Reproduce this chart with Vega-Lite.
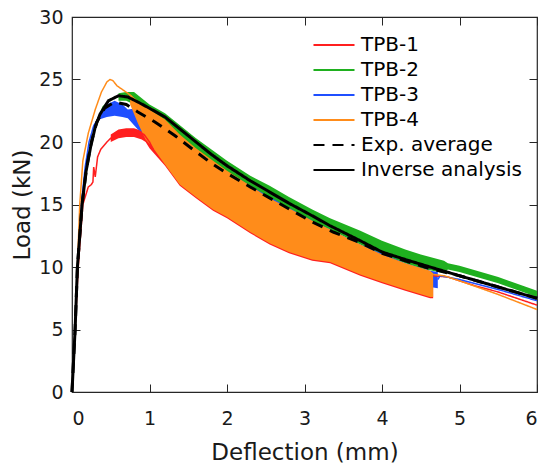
{
  "$schema": "https://vega.github.io/schema/vega-lite/v6.json",
  "width": 465,
  "height": 375,
  "autosize": {"type": "none"},
  "padding": {"left": 72, "top": 17, "right": 13, "bottom": 74},
  "background": "white",
  "config": {
    "font": "DejaVu Sans",
    "view": {"stroke": "#262626", "strokeWidth": 1.2},
    "axis": {
      "grid": false,
      "labelColor": "#1a1a1a",
      "labelFont": "DejaVu Sans",
      "labelFontSize": 19,
      "titleFont": "DejaVu Sans",
      "titleFontSize": 23,
      "titleFontWeight": "normal",
      "titleColor": "#1a1a1a"
    }
  },
  "datasets": {
    "bands": [
      {"s": "TPB-1", "x": 0.5, "y": 20.6, "lo": 20.0},
      {"s": "TPB-1", "x": 0.6, "y": 21.0, "lo": 20.3},
      {"s": "TPB-1", "x": 0.7, "y": 21.1, "lo": 20.4},
      {"s": "TPB-1", "x": 0.8, "y": 21.1, "lo": 20.4},
      {"s": "TPB-1", "x": 0.9, "y": 20.9, "lo": 20.2},
      {"s": "TPB-1", "x": 0.95, "y": 20.7, "lo": 20.0},
      {"s": "TPB-1", "x": 1.0, "y": 20.6, "lo": 19.5},
      {"s": "TPB-1", "x": 1.2, "y": 20.0, "lo": 18.1},
      {"s": "TPB-1", "x": 1.39, "y": 18.8, "lo": 16.5},
      {"s": "TPB-1", "x": 1.6, "y": 17.6, "lo": 15.5},
      {"s": "TPB-1", "x": 1.82, "y": 16.6, "lo": 14.5},
      {"s": "TPB-1", "x": 2.0, "y": 16.0, "lo": 13.9},
      {"s": "TPB-1", "x": 2.3, "y": 14.8, "lo": 12.7},
      {"s": "TPB-1", "x": 2.55, "y": 13.9, "lo": 11.8},
      {"s": "TPB-1", "x": 2.8, "y": 13.2, "lo": 11.1},
      {"s": "TPB-1", "x": 3.1, "y": 12.6, "lo": 10.5},
      {"s": "TPB-1", "x": 3.33, "y": 12.2, "lo": 10.3},
      {"s": "TPB-1", "x": 3.72, "y": 11.2, "lo": 9.3},
      {"s": "TPB-1", "x": 4.0, "y": 10.6, "lo": 8.7},
      {"s": "TPB-1", "x": 4.3, "y": 10.0, "lo": 8.1},
      {"s": "TPB-1", "x": 4.62, "y": 9.4, "lo": 7.5},
      {"s": "TPB-1", "x": 4.66, "y": 9.3, "lo": 7.5},

      {"s": "TPB-2", "x": 0.6, "y": 23.9, "lo": 23.3},
      {"s": "TPB-2", "x": 0.7, "y": 24.0, "lo": 23.3},
      {"s": "TPB-2", "x": 0.8, "y": 24.0, "lo": 23.0},
      {"s": "TPB-2", "x": 0.9, "y": 23.5, "lo": 22.5},
      {"s": "TPB-2", "x": 1.0, "y": 23.0, "lo": 22.0},
      {"s": "TPB-2", "x": 1.2, "y": 22.3, "lo": 21.3},
      {"s": "TPB-2", "x": 1.4, "y": 21.3, "lo": 20.3},
      {"s": "TPB-2", "x": 1.6, "y": 20.3, "lo": 19.3},
      {"s": "TPB-2", "x": 1.8, "y": 19.4, "lo": 18.4},
      {"s": "TPB-2", "x": 2.0, "y": 18.5, "lo": 17.5},
      {"s": "TPB-2", "x": 2.3, "y": 17.3, "lo": 16.4},
      {"s": "TPB-2", "x": 2.55, "y": 16.5, "lo": 15.5},
      {"s": "TPB-2", "x": 2.8, "y": 15.6, "lo": 14.6},
      {"s": "TPB-2", "x": 3.1, "y": 14.6, "lo": 13.6},
      {"s": "TPB-2", "x": 3.33, "y": 13.9, "lo": 13.0},
      {"s": "TPB-2", "x": 3.72, "y": 12.9, "lo": 11.8},
      {"s": "TPB-2", "x": 4.0, "y": 12.1, "lo": 11.0},
      {"s": "TPB-2", "x": 4.3, "y": 11.4, "lo": 10.3},
      {"s": "TPB-2", "x": 4.5, "y": 11.0, "lo": 9.9},
      {"s": "TPB-2", "x": 4.8, "y": 10.5, "lo": 9.5},
      {"s": "TPB-2", "x": 4.85, "y": 10.3, "lo": 9.8},
      {"s": "TPB-2", "x": 5.0, "y": 10.1, "lo": 9.6},
      {"s": "TPB-2", "x": 5.5, "y": 9.2, "lo": 8.7},
      {"s": "TPB-2", "x": 6.0, "y": 8.1, "lo": 7.6},

      {"s": "TPB-3", "x": 0.35, "y": 22.3, "lo": 21.8},
      {"s": "TPB-3", "x": 0.45, "y": 23.0, "lo": 22.0},
      {"s": "TPB-3", "x": 0.55, "y": 23.3, "lo": 22.1},
      {"s": "TPB-3", "x": 0.65, "y": 23.0, "lo": 22.0},
      {"s": "TPB-3", "x": 0.72, "y": 22.6, "lo": 21.9},
      {"s": "TPB-3", "x": 0.85, "y": 22.7, "lo": 21.0},
      {"s": "TPB-3", "x": 1.0, "y": 22.2, "lo": 20.5},
      {"s": "TPB-3", "x": 1.3, "y": 21.0, "lo": 18.5},
      {"s": "TPB-3", "x": 1.6, "y": 19.4, "lo": 16.8},
      {"s": "TPB-3", "x": 1.95, "y": 17.8, "lo": 15.2},
      {"s": "TPB-3", "x": 2.3, "y": 16.5, "lo": 13.8},
      {"s": "TPB-3", "x": 2.55, "y": 15.6, "lo": 13.0},
      {"s": "TPB-3", "x": 3.1, "y": 13.7, "lo": 11.6},
      {"s": "TPB-3", "x": 3.72, "y": 11.8, "lo": 10.4},
      {"s": "TPB-3", "x": 4.3, "y": 10.3, "lo": 9.0},
      {"s": "TPB-3", "x": 4.62, "y": 9.7, "lo": 8.4},
      {"s": "TPB-3", "x": 4.72, "y": 9.6, "lo": 8.3},

      {"s": "TPB-4", "x": 0.75, "y": 23.8, "lo": 23.0},
      {"s": "TPB-4", "x": 0.85, "y": 23.3, "lo": 21.5},
      {"s": "TPB-4", "x": 0.95, "y": 22.8, "lo": 20.2},
      {"s": "TPB-4", "x": 1.05, "y": 22.4, "lo": 19.5},
      {"s": "TPB-4", "x": 1.2, "y": 21.8, "lo": 18.2},
      {"s": "TPB-4", "x": 1.39, "y": 20.6, "lo": 16.6},
      {"s": "TPB-4", "x": 1.6, "y": 19.5, "lo": 15.6},
      {"s": "TPB-4", "x": 1.82, "y": 18.5, "lo": 14.6},
      {"s": "TPB-4", "x": 2.0, "y": 17.7, "lo": 14.0},
      {"s": "TPB-4", "x": 2.3, "y": 16.5, "lo": 12.8},
      {"s": "TPB-4", "x": 2.55, "y": 15.5, "lo": 11.9},
      {"s": "TPB-4", "x": 2.8, "y": 14.7, "lo": 11.2},
      {"s": "TPB-4", "x": 3.1, "y": 13.7, "lo": 10.6},
      {"s": "TPB-4", "x": 3.33, "y": 13.0, "lo": 10.4},
      {"s": "TPB-4", "x": 3.72, "y": 11.8, "lo": 9.4},
      {"s": "TPB-4", "x": 4.0, "y": 11.0, "lo": 8.8},
      {"s": "TPB-4", "x": 4.3, "y": 10.3, "lo": 8.2},
      {"s": "TPB-4", "x": 4.62, "y": 9.7, "lo": 7.6},
      {"s": "TPB-4", "x": 4.66, "y": 9.5, "lo": 7.6}
    ],
    "lines": [
      {"series": "TPB-1", "seg": "a", "x": 0, "y": 0},
      {"series": "TPB-1", "seg": "a", "x": 0.04, "y": 5},
      {"series": "TPB-1", "seg": "a", "x": 0.08, "y": 10},
      {"series": "TPB-1", "seg": "a", "x": 0.14, "y": 15},
      {"series": "TPB-1", "seg": "a", "x": 0.21, "y": 16.4},
      {"series": "TPB-1", "seg": "a", "x": 0.25, "y": 16.6},
      {"series": "TPB-1", "seg": "a", "x": 0.27, "y": 16.8},
      {"series": "TPB-1", "seg": "a", "x": 0.28, "y": 18.0},
      {"series": "TPB-1", "seg": "a", "x": 0.3, "y": 17.2},
      {"series": "TPB-1", "seg": "a", "x": 0.33, "y": 18.8},
      {"series": "TPB-1", "seg": "a", "x": 0.37, "y": 19.4},
      {"series": "TPB-1", "seg": "a", "x": 0.45, "y": 20.0},
      {"series": "TPB-1", "seg": "a", "x": 0.55, "y": 20.6},
      {"series": "TPB-1", "seg": "a", "x": 0.65, "y": 20.8},
      {"series": "TPB-1", "seg": "a", "x": 0.75, "y": 20.9},
      {"series": "TPB-1", "seg": "a", "x": 0.85, "y": 20.8},
      {"series": "TPB-1", "seg": "a", "x": 0.93, "y": 20.6},
      {"series": "TPB-1", "seg": "a", "x": 1.0, "y": 20.0},
      {"series": "TPB-1", "seg": "a", "x": 1.05, "y": 19.4},
      {"series": "TPB-1", "seg": "b", "x": 4.66, "y": 9.3},
      {"series": "TPB-1", "seg": "b", "x": 4.85, "y": 9.2},
      {"series": "TPB-1", "seg": "b", "x": 5.2, "y": 8.5},
      {"series": "TPB-1", "seg": "b", "x": 5.5, "y": 8.0},
      {"series": "TPB-1", "seg": "b", "x": 6.0, "y": 6.95},

      {"series": "TPB-2", "seg": "a", "x": 0, "y": 0},
      {"series": "TPB-2", "seg": "a", "x": 0.04, "y": 5},
      {"series": "TPB-2", "seg": "a", "x": 0.07, "y": 10},
      {"series": "TPB-2", "seg": "a", "x": 0.13, "y": 15},
      {"series": "TPB-2", "seg": "a", "x": 0.2, "y": 18.5},
      {"series": "TPB-2", "seg": "a", "x": 0.3, "y": 21.3},
      {"series": "TPB-2", "seg": "a", "x": 0.4, "y": 22.8},
      {"series": "TPB-2", "seg": "a", "x": 0.5, "y": 23.4},
      {"series": "TPB-2", "seg": "a", "x": 0.6, "y": 23.7},

      {"series": "TPB-3", "seg": "a", "x": 0, "y": 0},
      {"series": "TPB-3", "seg": "a", "x": 0.04, "y": 5},
      {"series": "TPB-3", "seg": "a", "x": 0.07, "y": 10},
      {"series": "TPB-3", "seg": "a", "x": 0.12, "y": 15},
      {"series": "TPB-3", "seg": "a", "x": 0.17, "y": 18},
      {"series": "TPB-3", "seg": "a", "x": 0.22, "y": 20},
      {"series": "TPB-3", "seg": "a", "x": 0.28, "y": 21.3},
      {"series": "TPB-3", "seg": "a", "x": 0.35, "y": 22.0},
      {"series": "TPB-3", "seg": "b", "x": 4.72, "y": 9.0},
      {"series": "TPB-3", "seg": "b", "x": 4.75, "y": 9.3},
      {"series": "TPB-3", "seg": "b", "x": 5.0, "y": 9.0},
      {"series": "TPB-3", "seg": "b", "x": 5.5, "y": 8.2},
      {"series": "TPB-3", "seg": "b", "x": 6.0, "y": 7.3},

      {"series": "TPB-4", "seg": "a", "x": 0, "y": 0},
      {"series": "TPB-4", "seg": "a", "x": 0.04, "y": 5},
      {"series": "TPB-4", "seg": "a", "x": 0.07, "y": 10},
      {"series": "TPB-4", "seg": "a", "x": 0.1, "y": 15},
      {"series": "TPB-4", "seg": "a", "x": 0.14, "y": 18.5},
      {"series": "TPB-4", "seg": "a", "x": 0.21, "y": 20.7},
      {"series": "TPB-4", "seg": "a", "x": 0.3, "y": 22.6},
      {"series": "TPB-4", "seg": "a", "x": 0.38, "y": 24.0},
      {"series": "TPB-4", "seg": "a", "x": 0.45, "y": 24.8},
      {"series": "TPB-4", "seg": "a", "x": 0.49, "y": 25.0},
      {"series": "TPB-4", "seg": "a", "x": 0.53, "y": 24.9},
      {"series": "TPB-4", "seg": "a", "x": 0.58, "y": 24.5},
      {"series": "TPB-4", "seg": "a", "x": 0.65, "y": 24.2},
      {"series": "TPB-4", "seg": "a", "x": 0.72, "y": 23.9},
      {"series": "TPB-4", "seg": "a", "x": 0.78, "y": 23.6},
      {"series": "TPB-4", "seg": "b", "x": 4.66, "y": 9.4},
      {"series": "TPB-4", "seg": "b", "x": 4.8, "y": 9.3},
      {"series": "TPB-4", "seg": "b", "x": 5.0, "y": 8.9},
      {"series": "TPB-4", "seg": "b", "x": 5.5, "y": 7.8},
      {"series": "TPB-4", "seg": "b", "x": 6.0, "y": 6.6},

      {"series": "Exp. average", "seg": "a", "x": 0, "y": 0},
      {"series": "Exp. average", "seg": "a", "x": 0.04, "y": 5},
      {"series": "Exp. average", "seg": "a", "x": 0.07, "y": 10},
      {"series": "Exp. average", "seg": "a", "x": 0.13, "y": 15},
      {"series": "Exp. average", "seg": "a", "x": 0.19, "y": 18},
      {"series": "Exp. average", "seg": "a", "x": 0.25, "y": 20},
      {"series": "Exp. average", "seg": "a", "x": 0.32, "y": 21.6},
      {"series": "Exp. average", "seg": "a", "x": 0.42, "y": 22.7},
      {"series": "Exp. average", "seg": "a", "x": 0.55, "y": 23.2},
      {"series": "Exp. average", "seg": "a", "x": 0.7, "y": 23.0},
      {"series": "Exp. average", "seg": "a", "x": 0.85, "y": 22.4},
      {"series": "Exp. average", "seg": "a", "x": 1.07, "y": 21.6},
      {"series": "Exp. average", "seg": "a", "x": 1.33, "y": 20.5},
      {"series": "Exp. average", "seg": "a", "x": 1.56, "y": 19.4},
      {"series": "Exp. average", "seg": "a", "x": 1.8, "y": 18.3},
      {"series": "Exp. average", "seg": "a", "x": 2.0, "y": 17.5},
      {"series": "Exp. average", "seg": "a", "x": 2.3, "y": 16.4},
      {"series": "Exp. average", "seg": "a", "x": 2.7, "y": 15.0},
      {"series": "Exp. average", "seg": "a", "x": 3.1, "y": 13.6},
      {"series": "Exp. average", "seg": "a", "x": 3.37, "y": 12.8},
      {"series": "Exp. average", "seg": "a", "x": 3.7, "y": 12.0},
      {"series": "Exp. average", "seg": "a", "x": 4.0, "y": 11.1},
      {"series": "Exp. average", "seg": "a", "x": 4.3, "y": 10.5},
      {"series": "Exp. average", "seg": "a", "x": 4.6, "y": 9.9},
      {"series": "Exp. average", "seg": "a", "x": 5.0, "y": 9.3},
      {"series": "Exp. average", "seg": "a", "x": 5.5, "y": 8.4},
      {"series": "Exp. average", "seg": "a", "x": 6.0, "y": 7.5},

      {"series": "Inverse analysis", "seg": "a", "x": 0, "y": 0},
      {"series": "Inverse analysis", "seg": "a", "x": 0.04, "y": 5},
      {"series": "Inverse analysis", "seg": "a", "x": 0.07, "y": 10},
      {"series": "Inverse analysis", "seg": "a", "x": 0.13, "y": 15},
      {"series": "Inverse analysis", "seg": "a", "x": 0.18, "y": 17.6},
      {"series": "Inverse analysis", "seg": "a", "x": 0.24, "y": 19.6},
      {"series": "Inverse analysis", "seg": "a", "x": 0.3, "y": 21.2},
      {"series": "Inverse analysis", "seg": "a", "x": 0.36, "y": 22.2},
      {"series": "Inverse analysis", "seg": "a", "x": 0.47, "y": 23.3},
      {"series": "Inverse analysis", "seg": "a", "x": 0.6, "y": 23.7},
      {"series": "Inverse analysis", "seg": "a", "x": 0.72, "y": 23.6},
      {"series": "Inverse analysis", "seg": "a", "x": 0.85, "y": 23.2},
      {"series": "Inverse analysis", "seg": "a", "x": 1.0, "y": 22.7},
      {"series": "Inverse analysis", "seg": "a", "x": 1.2, "y": 22.0},
      {"series": "Inverse analysis", "seg": "a", "x": 1.4, "y": 21.0},
      {"series": "Inverse analysis", "seg": "a", "x": 1.6, "y": 20.0},
      {"series": "Inverse analysis", "seg": "a", "x": 1.8, "y": 19.0},
      {"series": "Inverse analysis", "seg": "a", "x": 2.0, "y": 18.1},
      {"series": "Inverse analysis", "seg": "a", "x": 2.3, "y": 16.9},
      {"series": "Inverse analysis", "seg": "a", "x": 2.55, "y": 16.0},
      {"series": "Inverse analysis", "seg": "a", "x": 2.8, "y": 15.1},
      {"series": "Inverse analysis", "seg": "a", "x": 3.1, "y": 14.1},
      {"series": "Inverse analysis", "seg": "a", "x": 3.33, "y": 13.3},
      {"series": "Inverse analysis", "seg": "a", "x": 3.72, "y": 12.1},
      {"series": "Inverse analysis", "seg": "a", "x": 4.0, "y": 11.2},
      {"series": "Inverse analysis", "seg": "a", "x": 4.3, "y": 10.6},
      {"series": "Inverse analysis", "seg": "a", "x": 4.62, "y": 10.0},
      {"series": "Inverse analysis", "seg": "a", "x": 5.0, "y": 9.3},
      {"series": "Inverse analysis", "seg": "a", "x": 5.5, "y": 8.4},
      {"series": "Inverse analysis", "seg": "a", "x": 6.0, "y": 7.5}
    ]
  },
  "layer": [
    {
      "encoding": {
        "x": {"field": "x", "type": "quantitative", "scale": {"domain": [0, 6], "nice": false, "zero": false}, "axis": null},
        "y": {"field": "y", "type": "quantitative", "scale": {"domain": [0, 30], "nice": false}, "axis": null}
      },
      "layer": [
        {"data": {"name": "bands"}, "transform": [{"filter": "datum.s === 'TPB-1'"}],
         "mark": {"type": "area", "color": "#ff1f1f", "opacity": 1},
         "encoding": {"y2": {"field": "lo"}}},
        {"data": {"name": "bands"}, "transform": [{"filter": "datum.s === 'TPB-2'"}],
         "mark": {"type": "area", "color": "#1fb01f", "opacity": 1},
         "encoding": {"y2": {"field": "lo"}}},
        {"data": {"name": "bands"}, "transform": [{"filter": "datum.s === 'TPB-3'"}],
         "mark": {"type": "area", "color": "#1f4fff", "opacity": 1},
         "encoding": {"y2": {"field": "lo"}}},
        {"data": {"name": "bands"}, "transform": [{"filter": "datum.s === 'TPB-4'"}],
         "mark": {"type": "area", "color": "#ff8c1a", "opacity": 1},
         "encoding": {"y2": {"field": "lo"}}},
        {"data": {"name": "lines"}, "transform": [{"filter": "indexof(datum.series, 'TPB') === 0"}],
         "mark": {"type": "line", "strokeWidth": 1.5},
         "encoding": {
           "detail": {"field": "seg"},
           "color": {"field": "series", "type": "nominal",
             "scale": {"domain": ["TPB-1", "TPB-2", "TPB-3", "TPB-4", "Exp. average", "Inverse analysis"],
                       "range": ["#ff1f1f", "#1fb01f", "#1f4fff", "#ff8c1a", "#000000", "#000000"]},
             "legend": {"orient": "none", "legendX": 252, "legendY": 18, "title": null, "padding": 0,
                        "labelFont": "DejaVu Sans", "labelFontSize": 20, "labelColor": "#000000", "labelLimit": 400,
                        "symbolType": "M-3,0H3", "symbolSize": 187, "symbolStrokeWidth": 2.2, "labelOffset": 17, "rowPadding": 5}},
           "strokeDash": {"field": "series", "type": "nominal",
             "scale": {"domain": ["TPB-1", "TPB-2", "TPB-3", "TPB-4", "Exp. average", "Inverse analysis"],
                       "range": [[1, 0], [1, 0], [1, 0], [1, 0], [11, 8], [1, 0]]}}
         }},
        {"data": {"name": "lines"}, "transform": [{"filter": "indexof(datum.series, 'TPB') !== 0"}],
         "mark": {"type": "line", "strokeWidth": 3},
         "encoding": {
           "detail": {"field": "seg"},
           "color": {"field": "series", "type": "nominal",
             "scale": {"domain": ["TPB-1", "TPB-2", "TPB-3", "TPB-4", "Exp. average", "Inverse analysis"],
                       "range": ["#ff1f1f", "#1fb01f", "#1f4fff", "#ff8c1a", "#000000", "#000000"]}},
           "strokeDash": {"field": "series", "type": "nominal",
             "scale": {"domain": ["TPB-1", "TPB-2", "TPB-3", "TPB-4", "Exp. average", "Inverse analysis"],
                       "range": [[1, 0], [1, 0], [1, 0], [1, 0], [11, 8], [1, 0]]}}
         }}
      ]
    },
    {
      "data": {"name": "lines"},
      "mark": {"type": "line", "opacity": 0},
      "encoding": {
        "x": {"field": "x", "type": "quantitative", "scale": {"domain": [0, 6], "nice": false, "zero": false},
              "axis": {"orient": "bottom", "values": [0, 1, 2, 3, 4, 5, 6], "offset": -8, "tickSize": 8, "tickColor": "#262626", "domain": false,
                       "title": "Deflection (mm)", "labelPadding": 17, "titlePadding": 13}},
        "y": {"field": "y", "type": "quantitative", "scale": {"domain": [0, 30], "nice": false},
              "axis": {"orient": "left", "values": [0, 5, 10, 15, 20, 25, 30], "offset": -8, "tickSize": 8, "tickColor": "#262626", "domain": false,
                       "title": "Load (kN)", "labelPadding": 9, "titlePadding": 4}}
      }
    },
    {
      "data": {"name": "lines"},
      "mark": {"type": "line", "opacity": 0},
      "encoding": {
        "x": {"field": "x", "type": "quantitative", "scale": {"domain": [0, 6], "nice": false, "zero": false},
              "axis": {"orient": "top", "values": [0, 1, 2, 3, 4, 5, 6], "offset": -8, "tickSize": 8, "tickColor": "#262626", "domain": false, "labels": false, "title": null}},
        "y": {"field": "y", "type": "quantitative", "scale": {"domain": [0, 30], "nice": false},
              "axis": {"orient": "right", "values": [0, 5, 10, 15, 20, 25, 30], "offset": -8, "tickSize": 8, "tickColor": "#262626", "domain": false, "labels": false, "title": null}}
      }
    }
  ],
  "resolve": {"axis": {"x": "independent", "y": "independent"}}
}
